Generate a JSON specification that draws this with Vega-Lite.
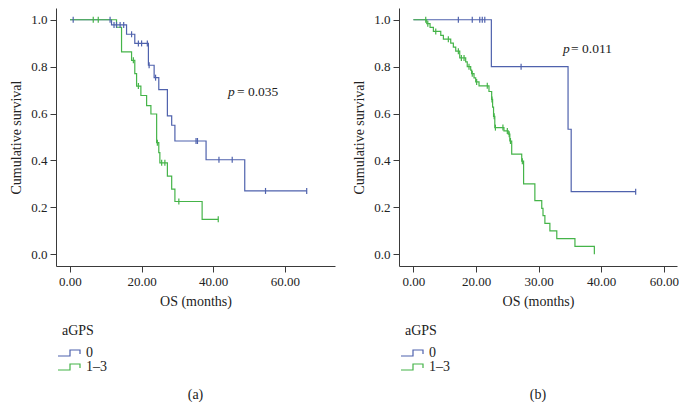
{
  "$schema": "https://vega.github.io/schema/vega-lite/v6.json",
  "padding": {"left": 9, "top": 8, "right": 0, "bottom": 0},
  "spacing": 17,
  "config": {
    "font": "Liberation Serif",
    "view": {"stroke": null},
    "axis": {
      "grid": false,
      "domainColor": "#3a3a3a",
      "tickColor": "#3a3a3a",
      "domainWidth": 1,
      "tickWidth": 1,
      "tickSize": 6,
      "labelFont": "Liberation Serif",
      "titleFont": "Liberation Serif",
      "labelFontSize": 13,
      "titleFontSize": 14,
      "labelColor": "#222222",
      "titleColor": "#222222",
      "titleFontWeight": "normal",
      "labelPadding": 3
    },
    "axisY": {"titlePadding": 7},
    "axisX": {"titlePadding": 6},
    "legend": {
      "orient": "none",
      "legendX": 6,
      "legendY": 316,
      "direction": "vertical",
      "symbolType": "M-2.2,0.6H0.2V-0.6H2.2V0.2",
      "symbolSize": 100,
      "symbolStrokeWidth": 1.2,
      "symbolFillColor": "transparent",
      "titleFont": "Liberation Serif",
      "labelFont": "Liberation Serif",
      "titleFontSize": 14,
      "labelFontSize": 14,
      "titleFontWeight": "normal",
      "titleColor": "#222222",
      "labelColor": "#222222",
      "titlePadding": 8,
      "rowPadding": 0,
      "labelOffset": 10
    },
    "title": {"font": "Liberation Serif", "fontSize": 14, "fontWeight": "normal", "color": "#222222"}
  },
  "datasets": {
    "a_curve": [
      {"group": "0", "t": 0, "s": 1.0},
      {"group": "0", "t": 11.6, "s": 0.978},
      {"group": "0", "t": 15.8, "s": 0.938},
      {"group": "0", "t": 18.1, "s": 0.899},
      {"group": "0", "t": 21.9, "s": 0.806},
      {"group": "0", "t": 23.5, "s": 0.753},
      {"group": "0", "t": 24.8, "s": 0.702},
      {"group": "0", "t": 27.2, "s": 0.59},
      {"group": "0", "t": 28.4, "s": 0.55},
      {"group": "0", "t": 29.3, "s": 0.483},
      {"group": "0", "t": 38.0, "s": 0.403},
      {"group": "0", "t": 48.8, "s": 0.27},
      {"group": "0", "t": 66.1, "s": 0.27},
      {"group": "1–3", "t": 0, "s": 1.0},
      {"group": "1–3", "t": 13.0, "s": 0.968},
      {"group": "1–3", "t": 14.4, "s": 0.863},
      {"group": "1–3", "t": 17.2, "s": 0.827},
      {"group": "1–3", "t": 18.1, "s": 0.77},
      {"group": "1–3", "t": 18.6, "s": 0.717},
      {"group": "1–3", "t": 19.8, "s": 0.677},
      {"group": "1–3", "t": 21.4, "s": 0.634},
      {"group": "1–3", "t": 22.6, "s": 0.598},
      {"group": "1–3", "t": 24.2, "s": 0.476},
      {"group": "1–3", "t": 24.8, "s": 0.433},
      {"group": "1–3", "t": 25.1, "s": 0.39},
      {"group": "1–3", "t": 27.2, "s": 0.333},
      {"group": "1–3", "t": 28.4, "s": 0.278},
      {"group": "1–3", "t": 29.3, "s": 0.225},
      {"group": "1–3", "t": 36.9, "s": 0.149},
      {"group": "1–3", "t": 41.4, "s": 0.149}
    ],
    "a_cens": [
      {"group": "0", "t": 0.9, "s": 1.0},
      {"group": "0", "t": 11.2, "s": 1.0},
      {"group": "0", "t": 12.3, "s": 0.978},
      {"group": "0", "t": 13.0, "s": 0.978},
      {"group": "0", "t": 14.0, "s": 0.978},
      {"group": "0", "t": 15.0, "s": 0.978},
      {"group": "0", "t": 17.2, "s": 0.938},
      {"group": "0", "t": 19.1, "s": 0.899},
      {"group": "0", "t": 20.0, "s": 0.899},
      {"group": "0", "t": 21.6, "s": 0.899},
      {"group": "0", "t": 22.1, "s": 0.806},
      {"group": "0", "t": 23.9, "s": 0.753},
      {"group": "0", "t": 35.2, "s": 0.483},
      {"group": "0", "t": 35.6, "s": 0.483},
      {"group": "0", "t": 41.6, "s": 0.403},
      {"group": "0", "t": 45.3, "s": 0.403},
      {"group": "0", "t": 54.6, "s": 0.27},
      {"group": "0", "t": 66.1, "s": 0.27},
      {"group": "1–3", "t": 6.5, "s": 1.0},
      {"group": "1–3", "t": 7.9, "s": 1.0},
      {"group": "1–3", "t": 17.7, "s": 0.827},
      {"group": "1–3", "t": 19.1, "s": 0.717},
      {"group": "1–3", "t": 24.4, "s": 0.476},
      {"group": "1–3", "t": 25.6, "s": 0.39},
      {"group": "1–3", "t": 26.5, "s": 0.39},
      {"group": "1–3", "t": 30.4, "s": 0.225},
      {"group": "1–3", "t": 41.4, "s": 0.149}
    ],
    "b_curve": [
      {"group": "0", "t": 0, "s": 1.0},
      {"group": "0", "t": 12.45, "s": 0.8},
      {"group": "0", "t": 24.7, "s": 0.533},
      {"group": "0", "t": 25.2, "s": 0.267},
      {"group": "0", "t": 35.5, "s": 0.267},
      {"group": "1–3", "t": 0, "s": 1.0},
      {"group": "1–3", "t": 2.13, "s": 0.983},
      {"group": "1–3", "t": 2.66, "s": 0.967},
      {"group": "1–3", "t": 3.19, "s": 0.95},
      {"group": "1–3", "t": 4.37, "s": 0.933},
      {"group": "1–3", "t": 4.79, "s": 0.917},
      {"group": "1–3", "t": 5.96, "s": 0.9},
      {"group": "1–3", "t": 6.38, "s": 0.883},
      {"group": "1–3", "t": 6.76, "s": 0.866},
      {"group": "1–3", "t": 7.4, "s": 0.837},
      {"group": "1–3", "t": 8.35, "s": 0.82},
      {"group": "1–3", "t": 8.6, "s": 0.8},
      {"group": "1–3", "t": 9.15, "s": 0.785},
      {"group": "1–3", "t": 9.3, "s": 0.77},
      {"group": "1–3", "t": 9.68, "s": 0.752},
      {"group": "1–3", "t": 9.95, "s": 0.735},
      {"group": "1–3", "t": 10.48, "s": 0.718},
      {"group": "1–3", "t": 12.07, "s": 0.694},
      {"group": "1–3", "t": 12.5, "s": 0.66},
      {"group": "1–3", "t": 12.65, "s": 0.627},
      {"group": "1–3", "t": 12.8, "s": 0.588},
      {"group": "1–3", "t": 13.0, "s": 0.54},
      {"group": "1–3", "t": 14.46, "s": 0.526},
      {"group": "1–3", "t": 15.15, "s": 0.512},
      {"group": "1–3", "t": 15.4, "s": 0.483},
      {"group": "1–3", "t": 15.7, "s": 0.427},
      {"group": "1–3", "t": 17.3, "s": 0.397},
      {"group": "1–3", "t": 17.6, "s": 0.3},
      {"group": "1–3", "t": 19.4, "s": 0.229},
      {"group": "1–3", "t": 20.5, "s": 0.196},
      {"group": "1–3", "t": 20.7, "s": 0.165},
      {"group": "1–3", "t": 21.0, "s": 0.132},
      {"group": "1–3", "t": 21.8, "s": 0.1},
      {"group": "1–3", "t": 22.9, "s": 0.067},
      {"group": "1–3", "t": 25.8, "s": 0.034},
      {"group": "1–3", "t": 28.9, "s": 0.0}
    ],
    "b_cens": [
      {"group": "0", "t": 7.18, "s": 1.0},
      {"group": "0", "t": 9.4, "s": 1.0},
      {"group": "0", "t": 10.6, "s": 1.0},
      {"group": "0", "t": 11.0, "s": 1.0},
      {"group": "0", "t": 11.4, "s": 1.0},
      {"group": "0", "t": 17.2, "s": 0.8},
      {"group": "0", "t": 35.5, "s": 0.267},
      {"group": "1–3", "t": 1.97, "s": 1.0},
      {"group": "1–3", "t": 2.3, "s": 0.983},
      {"group": "1–3", "t": 3.57, "s": 0.95},
      {"group": "1–3", "t": 5.58, "s": 0.917},
      {"group": "1–3", "t": 7.18, "s": 0.866},
      {"group": "1–3", "t": 7.66, "s": 0.837},
      {"group": "1–3", "t": 8.09, "s": 0.837},
      {"group": "1–3", "t": 8.88, "s": 0.8},
      {"group": "1–3", "t": 9.4, "s": 0.77},
      {"group": "1–3", "t": 10.1, "s": 0.735},
      {"group": "1–3", "t": 11.8, "s": 0.718},
      {"group": "1–3", "t": 12.55, "s": 0.66},
      {"group": "1–3", "t": 12.9, "s": 0.588},
      {"group": "1–3", "t": 13.1, "s": 0.54},
      {"group": "1–3", "t": 14.3, "s": 0.54},
      {"group": "1–3", "t": 15.0, "s": 0.526},
      {"group": "1–3", "t": 15.3, "s": 0.512},
      {"group": "1–3", "t": 15.5, "s": 0.483},
      {"group": "1–3", "t": 17.4, "s": 0.397}
    ]
  },
  "hconcat": [
    {
      "width": 279,
      "height": 258,
      "title": {"text": "(a)", "orient": "bottom", "anchor": "middle", "offset": 14},
      "layer": [
        {
          "data": {"name": "a_curve"},
          "mark": {"type": "line", "interpolate": "step-after", "strokeWidth": 1.2},
          "encoding": {
            "x": {"field": "t", "type": "quantitative", "scale": {"domain": [-3.9, 74], "nice": false, "zero": false}, "axis": {"values": [0, 20, 40, 60], "format": ".2f", "title": "OS (months)"}},
            "y": {"field": "s", "type": "quantitative", "scale": {"domain": [-0.05, 1.05], "nice": false}, "axis": {"values": [0, 0.2, 0.4, 0.6, 0.8, 1.0], "format": ".1f", "title": "Cumulative survival"}},
            "color": {"field": "group", "type": "nominal", "scale": {"domain": ["0", "1–3"], "range": ["#4f62ad", "#45b449"]}, "legend": {"title": "aGPS"}}
          }
        },
        {
          "data": {"name": "a_cens"},
          "mark": {"type": "point", "shape": "M0,-1V1", "filled": false, "size": 36, "strokeWidth": 1.2, "opacity": 1},
          "encoding": {
            "x": {"field": "t", "type": "quantitative"},
            "y": {"field": "s", "type": "quantitative"},
            "color": {"field": "group", "type": "nominal", "legend": null}
          }
        },
        {
          "data": {"values": [{}]},
          "mark": {"type": "text", "text": "p", "fontStyle": "italic", "align": "left", "baseline": "middle", "fontSize": 13.5, "color": "#222222"},
          "encoding": {"x": {"datum": 44.1}, "y": {"datum": 0.69}}
        },
        {
          "data": {"values": [{}]},
          "mark": {"type": "text", "text": "= 0.035", "align": "left", "baseline": "middle", "fontSize": 13.5, "dx": 9, "color": "#222222"},
          "encoding": {"x": {"datum": 44.1}, "y": {"datum": 0.69}}
        }
      ]
    },
    {
      "width": 278,
      "height": 258,
      "title": {"text": "(b)", "orient": "bottom", "anchor": "middle", "offset": 14},
      "layer": [
        {
          "data": {"name": "b_curve"},
          "mark": {"type": "line", "interpolate": "step-after", "strokeWidth": 1.2},
          "encoding": {
            "x": {"field": "t", "type": "quantitative", "scale": {"domain": [-2.3, 42.1], "nice": false, "zero": false}, "axis": {"values": [0, 10, 20, 30, 40], "labelExpr": "datum.value == 0 ? '0.00' : datum.value == 10 ? '20.00' : datum.value == 20 ? '30.00' : datum.value == 30 ? '40.00' : '60.00'", "title": "OS (months)"}},
            "y": {"field": "s", "type": "quantitative", "scale": {"domain": [-0.05, 1.05], "nice": false}, "axis": {"values": [0, 0.2, 0.4, 0.6, 0.8, 1.0], "format": ".1f", "title": "Cumulative survival"}},
            "color": {"field": "group", "type": "nominal", "scale": {"domain": ["0", "1–3"], "range": ["#4f62ad", "#45b449"]}, "legend": {"title": "aGPS"}}
          }
        },
        {
          "data": {"name": "b_cens"},
          "mark": {"type": "point", "shape": "M0,-1V1", "filled": false, "size": 36, "strokeWidth": 1.2, "opacity": 1},
          "encoding": {
            "x": {"field": "t", "type": "quantitative"},
            "y": {"field": "s", "type": "quantitative"},
            "color": {"field": "group", "type": "nominal", "legend": null}
          }
        },
        {
          "data": {"values": [{}]},
          "mark": {"type": "text", "text": "p", "fontStyle": "italic", "align": "left", "baseline": "middle", "fontSize": 13.5, "color": "#222222"},
          "encoding": {"x": {"datum": 23.9}, "y": {"datum": 0.877}}
        },
        {
          "data": {"values": [{}]},
          "mark": {"type": "text", "text": "= 0.011", "align": "left", "baseline": "middle", "fontSize": 13.5, "dx": 8, "color": "#222222"},
          "encoding": {"x": {"datum": 23.9}, "y": {"datum": 0.877}}
        }
      ]
    }
  ],
  "resolve": {"scale": {"color": "independent"}}
}
